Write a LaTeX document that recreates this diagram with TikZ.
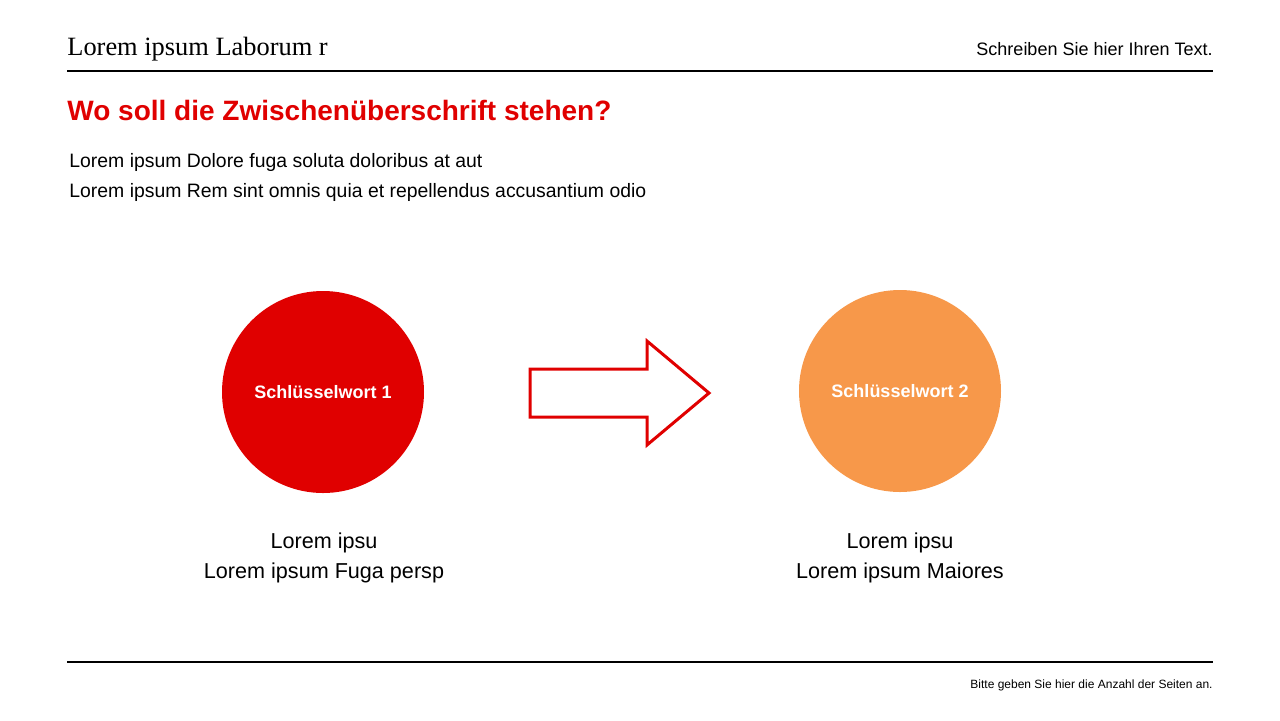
\documentclass[tikz,border=0pt]{standalone}
\usepackage{fontspec}
\setmainfont{Liberation Serif}
\setsansfont{Liberation Sans}
\usepackage{tikz}
\definecolor{brandred}{HTML}{E00000}
\definecolor{brandorange}{HTML}{F7984A}

\begin{document}
\begin{tikzpicture}[x=0.5pt,y=-0.5pt,
		rule/.style={line width=1pt,black},
		keyword/.style={circle,minimum size=101pt,inner sep=0pt,text=white,font=\sffamily\bfseries\fontsize{9}{11}\selectfont},
		caption/.style={align=center,font=\sffamily\fontsize{10.8}{15}\selectfont}]
			\useasboundingbox (0,0) rectangle (1280,720);
			\node[anchor=base west,inner sep=0pt,font=\fontsize{13.2}{16}\selectfont] (title) at (67,55) {Lorem ipsum Laborum r};
			\node[anchor=base east,inner sep=0pt,font=\sffamily\fontsize{9}{11}\selectfont] (note) at (1213,55) {Schreiben Sie hier Ihren Text.};
			\draw[rule] (67,71) -- (1213,71);
			\node[anchor=base west,inner sep=0pt,text=brandred,font=\sffamily\bfseries\fontsize{14}{17}\selectfont] (heading) at (67,120) {Wo soll die Zwischen\"uberschrift stehen?};
			\node[anchor=base west,inner sep=0pt,font=\sffamily\fontsize{9.7}{12}\selectfont] (line1) at (69,167) {Lorem ipsum Dolore fuga soluta doloribus at aut};
			\node[anchor=base west,inner sep=0pt,font=\sffamily\fontsize{9.7}{12}\selectfont] (line2) at (69,197) {Lorem ipsum Rem sint omnis quia et repellendus accusantium odio};
			\node[keyword,fill=brandred] (key1) at (323,392) {Schl\"usselwort 1};
			\node[keyword,fill=brandorange] (key2) at (900,391) {Schl\"usselwort 2};
			\draw[brandred,line width=1.5pt,line join=miter] (530,369) -- (647,369) -- (647,341) -- (709,393) -- (647,445) -- (647,417) -- (530,417) -- cycle;
			\node[caption] (text1) at (324,558) {Lorem ipsu\\Lorem ipsum Fuga persp};
			\node[caption] (text2) at (900,558) {Lorem ipsu\\Lorem ipsum Maiores};
			\draw[rule] (67,662) -- (1213,662);
			\node[anchor=base east,inner sep=0pt,font=\sffamily\fontsize{6}{7}\selectfont] (pages) at (1213,688) {Bitte geben Sie hier die Anzahl der Seiten an.};
		\end{tikzpicture}
\end{document}
